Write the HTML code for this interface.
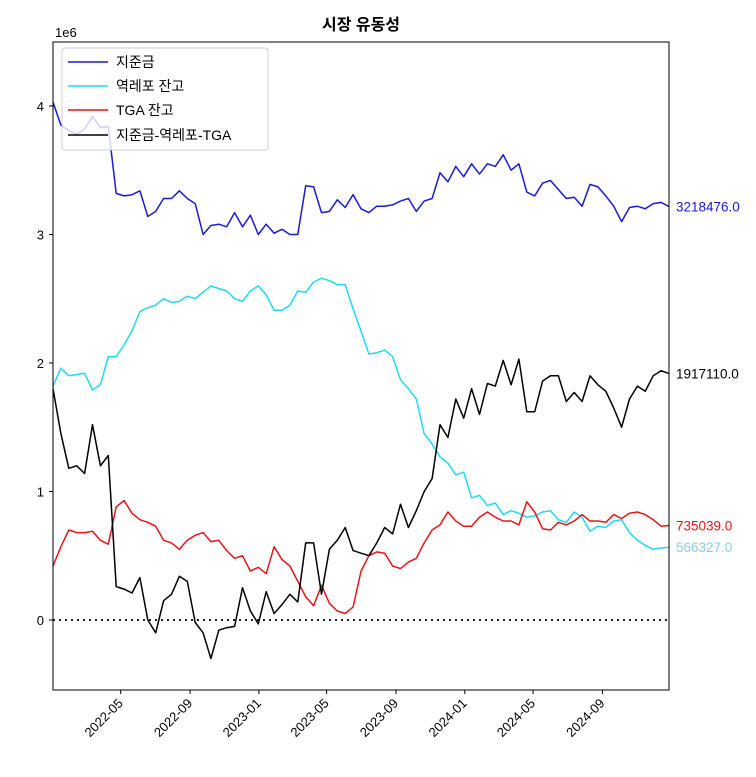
<!DOCTYPE html>
<html><head><meta charset="utf-8"><style>
body{margin:0;background:#fff;}
svg text{font-family:"Liberation Sans","Noto Sans CJK KR",sans-serif;}
</style></head><body>
<svg id="chart" width="756" height="772" viewBox="0 0 756 772" xmlns="http://www.w3.org/2000/svg">
<rect width="756" height="772" fill="#fff"/>
<text x="361" y="30" text-anchor="middle" font-size="16" font-weight="bold" fill="#000">시장 유동성</text>
<text x="55" y="37" font-size="13" fill="#000">1e6</text>
<g id="plot"></g>
<rect x="53" y="42" width="616" height="648" fill="none" stroke="#000" stroke-width="1"/>
<g id="legend">
<rect x="62" y="48" width="206" height="102" rx="3" fill="#fff" fill-opacity="0.8" stroke="#ccc"/>
<g><line x1="68" y1="62" x2="108" y2="62" stroke="#1a1ad6" stroke-width="1.5"/><text x="116" y="67" font-size="14">지준금</text></g>
<g><line x1="68" y1="86" x2="108" y2="86" stroke="#22d8ee" stroke-width="1.5"/><text x="116" y="91" font-size="14">역레포 잔고</text></g>
<g><line x1="68" y1="110" x2="108" y2="110" stroke="#e8141a" stroke-width="1.5"/><text x="116" y="115" font-size="14">TGA 잔고</text></g>
<g><line x1="68" y1="135" x2="108" y2="135" stroke="#000" stroke-width="1.5"/><text x="116" y="140" font-size="14">지준금-역레포-TGA</text></g>
</g>
</svg>
<script>
const startDate = "2022-01-01";
const stepDays = 14;
const reserves = [4.03,3.85,3.81,3.78,3.82,3.92,3.83,3.84,3.32,3.30,3.31,3.34,3.14,3.18,3.28,3.28,3.34,3.28,3.24,3.00,3.07,3.08,3.06,3.17,3.06,3.15,3.00,3.08,3.01,3.04,3.00,3.00,3.38,3.37,3.17,3.18,3.27,3.21,3.31,3.20,3.17,3.22,3.22,3.23,3.26,3.28,3.18,3.26,3.28,3.48,3.41,3.53,3.45,3.55,3.47,3.55,3.53,3.62,3.50,3.55,3.33,3.30,3.40,3.42,3.35,3.28,3.29,3.22,3.39,3.37,3.30,3.22,3.10,3.21,3.22,3.20,3.24,3.25,3.218476];
const rrp = [1.82,1.96,1.90,1.91,1.92,1.79,1.83,2.05,2.05,2.14,2.25,2.40,2.43,2.45,2.50,2.47,2.48,2.52,2.50,2.55,2.60,2.58,2.56,2.50,2.48,2.56,2.60,2.53,2.41,2.41,2.45,2.56,2.55,2.63,2.66,2.64,2.61,2.61,2.42,2.25,2.07,2.08,2.10,2.05,1.87,1.80,1.72,1.45,1.37,1.27,1.22,1.13,1.15,0.95,0.97,0.89,0.91,0.82,0.85,0.83,0.80,0.81,0.84,0.85,0.78,0.76,0.84,0.80,0.69,0.73,0.72,0.77,0.78,0.68,0.62,0.58,0.55,0.56,0.566327];
const tga = [0.42,0.57,0.70,0.68,0.68,0.69,0.62,0.59,0.88,0.93,0.83,0.78,0.76,0.73,0.62,0.60,0.55,0.62,0.66,0.68,0.61,0.62,0.54,0.48,0.50,0.38,0.41,0.36,0.57,0.47,0.42,0.30,0.18,0.11,0.27,0.13,0.07,0.05,0.10,0.38,0.50,0.53,0.52,0.42,0.40,0.45,0.48,0.60,0.70,0.74,0.84,0.77,0.73,0.73,0.80,0.84,0.80,0.77,0.77,0.74,0.92,0.84,0.71,0.70,0.76,0.74,0.77,0.82,0.77,0.77,0.76,0.82,0.79,0.83,0.84,0.82,0.78,0.73,0.735039];
const net = [1.80,1.45,1.18,1.20,1.14,1.52,1.20,1.28,0.26,0.24,0.21,0.33,0.00,-0.10,0.15,0.20,0.34,0.30,-0.02,-0.10,-0.30,-0.08,-0.06,-0.05,0.25,0.07,-0.03,0.22,0.05,0.12,0.20,0.14,0.60,0.60,0.20,0.55,0.62,0.72,0.54,0.52,0.50,0.60,0.72,0.67,0.90,0.72,0.85,1.00,1.10,1.52,1.42,1.72,1.57,1.80,1.60,1.84,1.82,2.02,1.83,2.03,1.62,1.62,1.86,1.90,1.90,1.70,1.77,1.70,1.90,1.83,1.78,1.65,1.50,1.72,1.82,1.78,1.90,1.94,1.917110];
const yTicks = [0,1,2,3,4];
const xTickLabels = ["2022-05","2022-09","2023-01","2023-05","2023-09","2024-01","2024-05","2024-09"];

const NS="http://www.w3.org/2000/svg";
const plot=document.getElementById('plot');
const day=86400000;
const t0=Date.parse(startDate+"T00:00:00Z");
const t1=t0+1092*day;
const X0=53,X1=669,Y0=42,Y1=690;
const yMin=-0.545,yMax=4.498;
function xs(t){return X0+(t-t0)/(t1-t0)*(X1-X0);}
function ys(v){return Y1-(v-yMin)/(yMax-yMin)*(Y1-Y0);}
function dateAt(i){return t0+i*stepDays*day;}
function mk(tag,attrs){const e=document.createElementNS(NS,tag);for(const k in attrs)e.setAttribute(k,attrs[k]);return e;}

// zero line
const z=mk('line',{x1:X0,x2:X1,y1:ys(0),y2:ys(0),stroke:'#000','stroke-width':1.8,'stroke-dasharray':'2,4'});


plot.appendChild(z);

yTicks.forEach(v=>{
  const y=ys(v);
  const l=mk('line',{x1:X0-4,x2:X0,y1:y,y2:y,stroke:'#000'});
  
  
  plot.appendChild(l);
  const t=mk('text',{x:X0-9,y:y+5,'text-anchor':'end','font-size':13});
  
  
  t.textContent=String(v);plot.appendChild(t);
});
xTickLabels.forEach(s=>{
  const x=xs(Date.parse(s+"-01T00:00:00Z"));
  const l=mk('line',{x1:x,x2:x,y1:Y1,y2:Y1+4,stroke:'#000'});
  
  
  plot.appendChild(l);
  const t=mk('text',{x:x+3,y:Y1+14,'text-anchor':'end','font-size':13,transform:`rotate(-45 ${x+3} ${Y1+14})`});
  
  
  t.textContent=s;plot.appendChild(t);
});

function series(vals,color,name,label,labelColor){
  const pts=vals.map((v,i)=>{let x=xs(dateAt(i));if(x>X1)x=X1;return x.toFixed(1)+','+ys(v).toFixed(1);}).join(' ');
  const p=mk('polyline',{points:pts,fill:'none',stroke:color,'stroke-width':1.5,'stroke-linejoin':'round'});
  
  
  plot.appendChild(p);
  const last=vals[vals.length-1];
  const t=mk('text',{x:676,y:ys(last)+5,'font-size':13.5,fill:labelColor});
  
  
  t.textContent=(Math.round(last*1e6)).toFixed(1);plot.appendChild(t);
}
series(reserves,'#1a1ad6','reserves-line',true,'#1a1ad6');
series(rrp,'#22d8ee','rrp-line',true,'#87ceeb');
series(tga,'#e8141a','tga-line',true,'#e8141a');
series(net,'#000','net-liquidity-line',true,'#000');
</script>
</body></html>
